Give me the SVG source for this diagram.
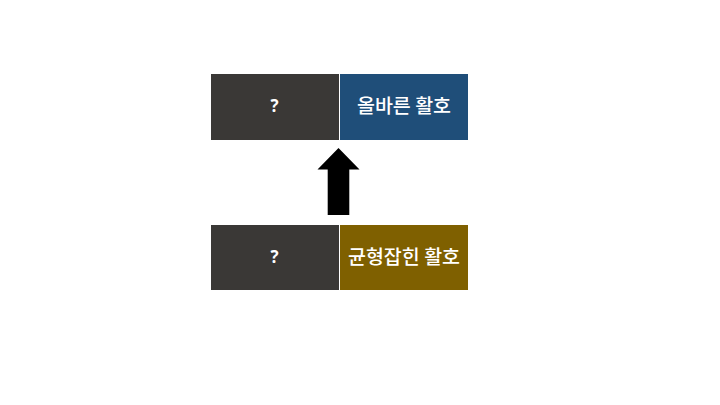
<svg xmlns="http://www.w3.org/2000/svg" width="720" height="405" viewBox="0 0 720 405">
  <style>
    .lbl { font-family: "Noto Sans CJK KR", "Noto Sans", sans-serif; font-size: 19.5px; font-weight: 500; fill: #ffffff; text-anchor: middle; }
    .q { font-family: "Open Sans", "Noto Sans", sans-serif; font-size: 17px; font-weight: bold; fill: #ffffff; text-anchor: middle; }
  </style>
  <rect width="720" height="405" fill="#ffffff"/>
  <g id="top-left">
    <rect x="211" y="74" width="128" height="66" fill="#3a3836"/>
    <text class="q" x="274.5" y="112">?</text>
  </g>
  <g id="top-right">
    <rect x="340" y="74" width="128" height="66" fill="#1f4e79"/>
    <text class="lbl" x="404" y="113">올바른 활호</text>
  </g>
  <g id="bottom-left">
    <rect x="211" y="225" width="128" height="65" fill="#3a3836"/>
    <text class="q" x="274.5" y="262.5">?</text>
  </g>
  <g id="bottom-right">
    <rect x="340" y="225" width="128" height="65" fill="#7f6000"/>
    <text class="lbl" x="404" y="264">균형잡힌 활호</text>
  </g>
  <g id="connectors">
    <polygon points="338.5,148 359.5,169.5 349.3,169.5 349.3,215 327.7,215 327.7,169.5 317.5,169.5" fill="#000000"/>
  </g>
</svg>
